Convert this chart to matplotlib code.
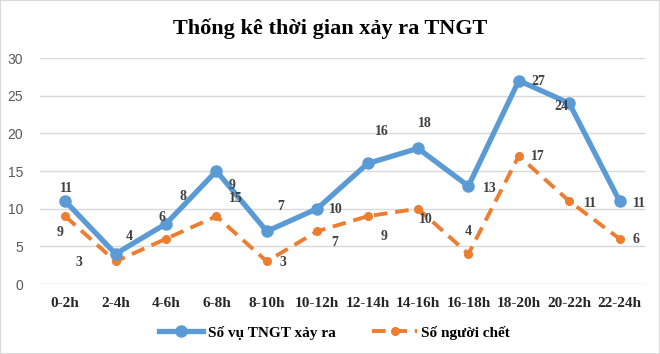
import matplotlib
matplotlib.use("Agg")
import matplotlib.pyplot as plt
from matplotlib.lines import Line2D
from matplotlib.patches import Rectangle

categories = ["0-2h", "2-4h", "4-6h", "6-8h", "8-10h", "10-12h", "12-14h",
              "14-16h", "16-18h", "18-20h", "20-22h", "22-24h"]
accidents = [11, 4, 8, 15, 7, 10, 16, 18, 13, 27, 24, 11]
deaths = [9, 3, 6, 9, 3, 7, 9, 10, 4, 17, 11, 6]
series_names = ["Số vụ TNGT xảy ra", "Số người chết"]
title = "Thống kê thời gian xảy ra TNGT"

# label offsets in pixels (dx, dy) relative to point
acc_off = [(1, 13), (14, 17), (17, 27), (19, -27), (14, 25), (19, -1),
           (14, 32), (7, 25), (21, -2), (19, -1), (-8, -3), (20, -2)]
dth_off = [(-5, -16), (-37, -1), (-4, 21), (16, 31), (16, -1), (17, -11),
           (16, -20), (8, -11), (0, 22), (19, -1), (21, -2), (16, -1)]

blue = "#5B9BD5"
orange = "#ED7D31"
serif = ["Liberation Serif", "DejaVu Serif"]

fig = plt.figure(figsize=(6.6, 3.54), dpi=100)
ax = fig.add_axes([0.0606, 0.1977, 0.9164, 0.6384])
x = list(range(len(categories)))

ax.plot(x, accidents, color=blue, lw=3.8, marker="o", ms=8, zorder=3,
        solid_capstyle="round")
ax.plot(x, deaths, color=orange, lw=2.8, ls=(0, (3.5, 2)), marker="o", ms=5.5,
        zorder=2)

for i in x:
    dx, dy = acc_off[i]
    ax.annotate(str(accidents[i]), (i, accidents[i]), xytext=(dx * 0.72, dy * 0.72),
                textcoords="offset points", ha="center", va="center",
                fontsize=10, fontweight="bold", family=serif, color="#404040", zorder=5)
    dx, dy = dth_off[i]
    ax.annotate(str(deaths[i]), (i, deaths[i]), xytext=(dx * 0.72, dy * 0.72),
                textcoords="offset points", ha="center", va="center",
                fontsize=10, fontweight="bold", family=serif, color="#404040", zorder=5)

ax.set_xlim(-0.5, len(categories) - 0.5)
ax.set_ylim(0, 30)
ax.set_yticks(range(0, 31, 5))
ax.set_xticks(x)
ax.set_xticklabels(categories, fontsize=11, fontweight="bold", family=serif,
                   color="#262626")
ax.tick_params(axis="x", length=0, pad=9)
ax.tick_params(axis="y", length=0, pad=12, labelsize=10, labelcolor="#595959")
for lab in ax.get_yticklabels():
    lab.set_family(["Liberation Sans", "DejaVu Sans"])
ax.grid(axis="y", color="#D9D9D9", lw=1)
ax.set_axisbelow(True)
for s in ax.spines.values():
    s.set_visible(False)

fig.text(0.5, 0.92, title, ha="center", va="center", fontsize=16,
         fontweight="bold", family=serif, color="#000000")

handles = [Line2D([], [], color=blue, lw=3.8, marker="o", ms=8),
           Line2D([], [], color=orange, lw=2.8, ls=(0, (3.5, 2)), marker="o", ms=5.5)]
fig.legend(handles, series_names, loc="center", bbox_to_anchor=(0.507, 0.06),
           ncol=2, frameon=False, handlelength=2.9, handletextpad=0.3,
           columnspacing=2.4,
           prop={"family": serif, "weight": "bold", "size": 11})

fig.patches.append(Rectangle((0, 0), 1, 1, transform=fig.transFigure,
                             fill=False, ec="#D9D9D9", lw=1.5))

fig.savefig("out.png", dpi=100)
